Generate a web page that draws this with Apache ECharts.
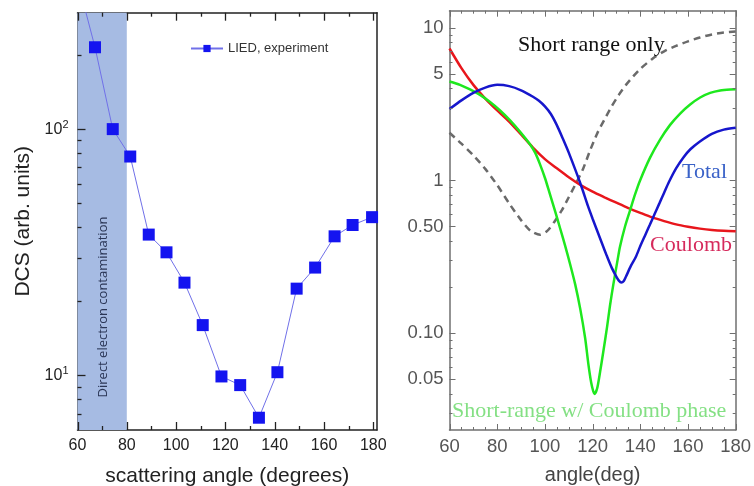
<!DOCTYPE html>
<html><head><meta charset="utf-8">
<script src="https://cdn.jsdelivr.net/npm/echarts@6/dist/echarts.min.js"></script>
<style>html,body{margin:0;padding:0;background:#fff}#c{width:754px;height:486px}</style>
</head><body><div id="c"></div>
<script>
// ---- Left panel: LIED experiment ----
const expAngle = [59.5, 67.1, 74.3, 81.4, 88.9, 96.1, 103.4, 110.8, 118.4, 126.0, 133.6, 141.1, 148.9, 156.4, 164.3, 171.6, 179.5];
const expDCS   = [420, 215, 100, 77.4, 37.3, 31.6, 23.8, 16.0, 9.9, 9.13, 6.73, 10.3, 22.5, 27.4, 36.7, 40.8, 43.9];
const bandRange = [60, 80];
const leftXMajor = [60, 80, 100, 120, 140, 160, 180];
const leftXMinor = [70, 90, 110, 130, 150, 170];
const leftYMajor = [10, 100];
const leftYMinor = [7, 8, 9, 20, 30, 40, 50, 60, 70, 80, 90, 200];

// ---- Right panel: theory curves ----
const coulombAngle = [60,65,70,75,80,85,90,95,100,105,110,115,120,125,130,135,140,145,150,155,160,165,170,175,180];
const coulombDCS   = [7.3,5.43,4.22,3.43,2.87,2.43,2.0,1.64,1.38,1.2,1.05,0.933,0.845,0.776,0.715,0.66,0.614,0.573,0.542,0.516,0.498,0.484,0.474,0.468,0.465];
const phaseAngle = [60,64.4,68.6,72.8,77,81.2,85.4,89.6,93.8,95.9,98,100.1,102.2,104.3,106.4,108.5,110.6,112.7,114.8,116.9,118.2,119.4,120.3,120.8,121.9,123.1,124.5,126.1,127.3,128.7,130.3,131.5,133.6,135.7,137.8,139.9,144.1,148.3,152.5,156.7,160.9,165.1,169.3,173.5,177.7,180];
const phaseDCS   = [4.44,4.22,3.94,3.63,3.26,2.87,2.47,2.08,1.72,1.52,1.27,1.03,0.804,0.627,0.485,0.373,0.282,0.209,0.145,0.0925,0.0634,0.0476,0.0416,0.0401,0.0435,0.0554,0.076,0.111,0.152,0.209,0.291,0.37,0.5,0.637,0.81,1.0,1.41,1.85,2.31,2.74,3.14,3.49,3.74,3.88,3.94,3.95];
const totalAngle = [60,65,70,75,80,85,90,95,97.5,100,102.5,105,107.5,110,115,118,120,122,124,126,128,130,131,132,133,134,136,138,140,142,144,146,148,150,152,155,158,161,165,170,175,180];
const totalDCS   = [2.93,3.34,3.74,4.05,4.22,4.14,3.89,3.53,3.32,3.05,2.72,2.3,1.88,1.52,0.944,0.684,0.562,0.465,0.385,0.32,0.269,0.234,0.221,0.215,0.219,0.235,0.275,0.313,0.372,0.437,0.513,0.603,0.708,0.832,0.977,1.2,1.41,1.6,1.8,2.02,2.15,2.21];
const shortAngle = [60,65,70,75,80,85,90,94,98,101,104,107,110,113,116,119,122,125,128,131,134,137,140,145,150,155,160,165,170,175,180];
const shortDCS   = [2.05,1.74,1.46,1.19,0.933,0.708,0.55,0.468,0.441,0.468,0.537,0.634,0.776,0.955,1.19,1.58,2.04,2.51,3.05,3.63,4.22,4.79,5.37,6.24,7.0,7.59,8.13,8.61,9.02,9.29,9.44];
const rightXMajor = [60, 80, 100, 120, 140, 160, 180];
const rightXMinor = [65,70,75,85,90,95,105,110,115,125,130,135,145,150,155,165,170,175];
const rightYMajor = [0.05, 0.1, 0.5, 1, 5, 10];
const rightYLabels = ['0.05', '0.10', '0.50', '1', '5', '10'];
const rightYMinor = [0.03,0.04,0.06,0.07,0.08,0.09,0.2,0.3,0.4,0.6,0.7,0.8,0.9,2,3,4,6,7,8,9];

const zip = (a, b) => a.map((v, i) => [v, b[i]]);

const chart = echarts.init(document.getElementById('c'), null, {renderer: 'canvas'});
const sans = '"Liberation Sans", Arial, sans-serif';
const serif = '"Liberation Serif", "Times New Roman", serif';
const L = '#222';
const G = '#6f6f6f';

function xAx(grid, pos, col, opt) {
  return Object.assign({
    type: 'value', gridIndex: grid, position: pos, min: 60, interval: 20,
    splitLine: {show: false}, axisTick: {show: false}, minorTick: {show: false},
    axisLine: {show: true, onZero: false, lineStyle: {color: col, width: 1.5}}
  }, opt);
}
function yAx(grid, pos, col, min, max, opt) {
  return Object.assign({
    type: 'log', gridIndex: grid, position: pos, min: min, max: max,
    splitLine: {show: false}, axisTick: {show: false}, minorTick: {show: false},
    axisLine: {show: true, onZero: false, lineStyle: {color: col, width: 1.5}}
  }, opt);
}

// Tick marks placed through the axes' own scales (api.coord)
function xTicks(xIdx, yIdx, values, yRef, len, color, width) {
  return {type: 'custom', xAxisIndex: xIdx, yAxisIndex: yIdx, silent: true, z: 4, clip: false,
    data: values.map(v => [v, yRef]), encode: {x: 0, y: 1},
    renderItem: (params, api) => {
      const r = params.coordSys;
      const px = Math.round(api.coord([api.value(0), api.value(1)])[0]) + 0.5;
      const st = {stroke: color, lineWidth: width};
      return {type: 'group', children: [
        {type: 'line', shape: {x1: px, y1: r.y + r.height, x2: px, y2: r.y + r.height - len}, style: st},
        {type: 'line', shape: {x1: px, y1: r.y, x2: px, y2: r.y + len}, style: st}
      ]};
    }};
}
function yTicks(xIdx, yIdx, values, xRef, len, color, width, both) {
  return {type: 'custom', xAxisIndex: xIdx, yAxisIndex: yIdx, silent: true, z: 4, clip: false,
    data: values.map(v => [xRef, v]), encode: {x: 0, y: 1},
    renderItem: (params, api) => {
      const r = params.coordSys;
      const py = Math.round(api.coord([api.value(0), api.value(1)])[1]) + 0.5;
      const st = {stroke: color, lineWidth: width};
      const ch = [{type: 'line', shape: {x1: r.x, y1: py, x2: r.x + len, y2: py}, style: st}];
      if (both) ch.push({type: 'line', shape: {x1: r.x + r.width, y1: py, x2: r.x + r.width - len, y2: py}, style: st});
      return {type: 'group', children: ch};
    }};
}

const option = {
  animation: false,
  grid: [
    {left: 77.5, top: 12.7, width: 299.5, height: 417.3, outerBoundsMode: 'none'},
    {left: 449.5, top: 10.7, width: 286.2, height: 419.3, outerBoundsMode: 'none'}
  ],
  legend: {
    left: 185, top: 37, itemWidth: 32, itemHeight: 9, itemGap: 4,
    textStyle: {fontFamily: sans, fontSize: 13, color: '#333'},
    data: ['LIED, experiment']
  },
  xAxis: [
    xAx(0, 'bottom', L, {max: 181.5,
      axisLabel: {fontFamily: sans, fontSize: 16, color: L, margin: 8, customValues: leftXMajor},
      name: 'scattering angle (degrees)', nameLocation: 'middle', nameGap: 36,
      nameTextStyle: {fontFamily: sans, fontSize: 21, color: L}}),
    xAx(0, 'top', L, {max: 181.5, axisLabel: {show: false}}),
    xAx(1, 'bottom', G, {max: 180,
      axisLabel: {fontFamily: sans, fontSize: 18.5, color: '#555', margin: 7, customValues: rightXMajor},
      name: 'angle(deg)', nameLocation: 'middle', nameGap: 35,
      nameTextStyle: {fontFamily: sans, fontSize: 20, color: '#444'}}),
    xAx(1, 'top', G, {max: 180, axisLabel: {show: false}})
  ],
  yAxis: [
    yAx(0, 'left', L, 6, 297, {
      axisLabel: {customValues: leftYMajor, margin: 9, fontFamily: sans, fontSize: 16, color: L,
        formatter: v => '10{s|' + Math.round(Math.log10(v)) + '}',
        rich: {s: {fontSize: 11, fontFamily: sans, color: L, verticalAlign: 'top', padding: [0, 0, 9, 0]}}},
      name: 'DCS (arb. units)', nameLocation: 'middle', nameGap: 44, nameRotate: 90,
      nameTextStyle: {fontFamily: sans, fontSize: 21, color: L}}),
    yAx(0, 'right', L, 6, 297, {axisLabel: {show: false}}),
    yAx(1, 'left', G, 0.0233, 12.9, {
      axisLabel: {customValues: rightYMajor, margin: 6, fontFamily: sans, fontSize: 18.5, color: '#555',
        formatter: v => rightYLabels[rightYMajor.findIndex(m => Math.abs(m - v) < m * 1e-6)] || ''}}),
    yAx(1, 'right', G, 0.0233, 12.9, {axisLabel: {show: false}})
  ],
  series: [
    {name: 'LIED, experiment', type: 'line', xAxisIndex: 0, yAxisIndex: 0, data: zip(expAngle, expDCS),
      symbol: 'rect', symbolSize: 12, itemStyle: {color: '#1414f0'},
      lineStyle: {color: '#7070e8', width: 1}, z: 5,
      markArea: {silent: true, itemStyle: {color: '#a6bbe3', opacity: 1},
        data: [[{xAxis: bandRange[0]}, {xAxis: bandRange[1]}]]}},
    {name: 'Short range only', type: 'line', xAxisIndex: 2, yAxisIndex: 2, data: zip(shortAngle, shortDCS),
      showSymbol: false, smooth: 0.25, lineStyle: {color: '#6a6a6a', width: 2.5, type: [7, 5]}},
    {name: 'Coulomb', type: 'line', xAxisIndex: 2, yAxisIndex: 2, data: zip(coulombAngle, coulombDCS),
      showSymbol: false, smooth: 0.25, lineStyle: {color: '#e8161c', width: 2.5}},
    {name: 'Short-range w/ Coulomb phase', type: 'line', xAxisIndex: 2, yAxisIndex: 2, data: zip(phaseAngle, phaseDCS),
      showSymbol: false, smooth: 0.25, lineStyle: {color: '#1ee81e', width: 2.5}},
    {name: 'Total', type: 'line', xAxisIndex: 2, yAxisIndex: 2, data: zip(totalAngle, totalDCS),
      showSymbol: false, smooth: 0.25, lineStyle: {color: '#1616cc', width: 2.5}},
    xTicks(0, 0, leftXMajor, 10, 8, L, 1.3),
    xTicks(0, 0, leftXMinor, 10, 4, L, 1.3),
    yTicks(0, 0, leftYMajor, 100, 8, L, 1.3, false),
    yTicks(0, 0, leftYMinor, 100, 4, L, 1.3, false),
    xTicks(2, 2, rightXMajor, 1, 6, G, 1),
    xTicks(2, 2, rightXMinor, 1, 3, G, 1),
    yTicks(2, 2, rightYMajor, 100, 6, G, 1, true),
    yTicks(2, 2, rightYMinor, 100, 3, G, 1, true)
  ],
  graphic: [
    {type: 'text', x: 103, y: 307, rotation: Math.PI / 2, z: 10,
      style: {text: 'Direct electron contamination', font: '13px "Open Sans", sans-serif', fill: '#2b3656', align: 'center', verticalAlign: 'middle'}},
    {type: 'text', x: 518, y: 45, z: 10,
      style: {text: 'Short range only', font: '22px ' + serif, fill: '#111', align: 'left', verticalAlign: 'middle'}},
    {type: 'text', x: 727, y: 172, z: 10,
      style: {text: 'Total', font: '22px ' + serif, fill: '#3a62c8', align: 'right', verticalAlign: 'middle'}},
    {type: 'text', x: 732, y: 245, z: 10,
      style: {text: 'Coulomb', font: '22px ' + serif, fill: '#d62a5c', align: 'right', verticalAlign: 'middle'}},
    {type: 'text', x: 452, y: 411, z: 10,
      style: {text: 'Short-range w/ Coulomb phase', font: '22px ' + serif, fill: '#84e084', align: 'left', verticalAlign: 'middle'}}
  ]
};
chart.setOption(option);
</script></body></html>
